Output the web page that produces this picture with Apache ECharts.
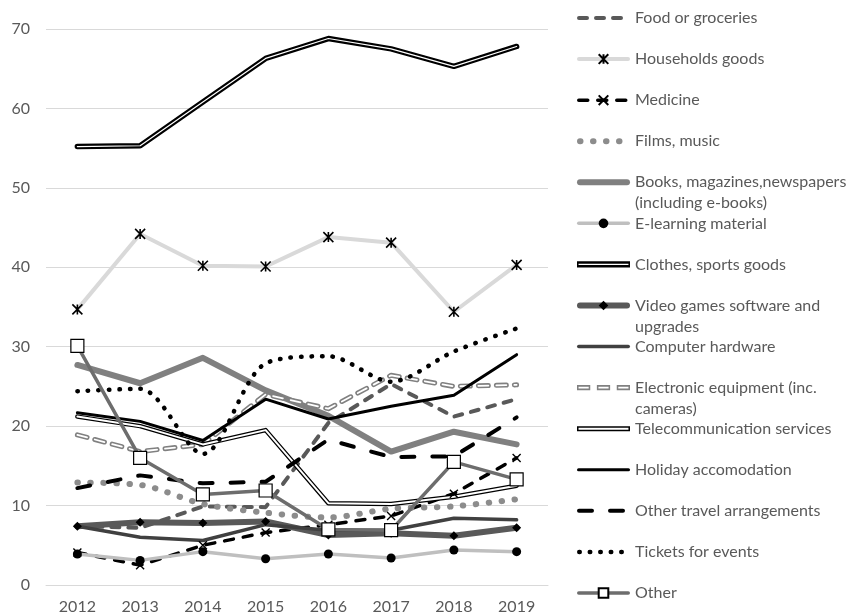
<!DOCTYPE html>
<html>
<head>
<meta charset="utf-8">
<script src="https://cdn.jsdelivr.net/npm/echarts@6/dist/echarts.min.js"></script>
<style>
html,body{margin:0;padding:0;background:#fff;}
#main{width:850px;height:615px;}
</style>
</head>
<body>
<div id="main"></div>
<script>
var categories = ['2012','2013','2014','2015','2016','2017','2018','2019'];
var yTicks = [0,10,20,30,40,50,60,70];

var food        = [7.4, 7.2, 9.9, 9.8, 20.4, 25.3, 21.2, 23.4];
var households  = [34.7, 44.2, 40.2, 40.1, 43.8, 43.1, 34.4, 40.3];
var medicine    = [4.1, 2.5, 5.0, 6.6, 7.6, 8.7, 11.5, 16.0];
var films       = [12.9, 12.6, 10.2, 9.1, 8.5, 9.6, 9.9, 10.8];
var books       = [27.7, 25.4, 28.6, 24.5, 21.3, 16.8, 19.3, 17.7];
var elearning   = [3.9, 3.1, 4.2, 3.3, 3.9, 3.4, 4.4, 4.2];
var clothes     = [55.2, 55.3, 60.8, 66.3, 68.8, 67.5, 65.3, 67.8];
var videogames  = [7.4, 7.9, 7.8, 8.0, 6.3, 6.5, 6.2, 7.2];
var hardware    = [7.4, 6.0, 5.6, 7.6, 6.9, 6.9, 8.4, 8.2];
var electronic  = [18.9, 16.8, 17.7, 24.0, 22.2, 26.4, 25.0, 25.2];
var telecom     = [21.2, 20.0, 17.7, 19.5, 10.3, 10.2, 11.1, 12.5];
var holiday     = [21.7, 20.6, 18.2, 23.4, 20.9, 22.5, 23.9, 29.0];
var otherTravel = [12.2, 13.8, 12.8, 13.0, 18.3, 16.1, 16.2, 21.1];
var tickets     = [24.4, 24.7, 16.5, 27.9, 28.8, 25.6, 29.4, 32.3];
var other       = [30.1, 16.0, 11.4, 11.9, 7.0, 6.9, 15.5, 13.3];

var names = [
  'Food or groceries',
  'Households goods',
  'Medicine',
  'Films, music',
  'Books, magazines,newspapers\n(including e-books)',
  'E-learning material',
  'Clothes, sports goods',
  'Video games software and\nupgrades',
  'Computer hardware',
  'Electronic equipment (inc.\ncameras)',
  'Telecommunication services',
  'Holiday accomodation',
  'Other travel arrangements',
  'Tickets for events',
  'Other'
];

var asterisk = 'path://M0,0L10,10M10,0L0,10M5,0L5,10';
var cross = 'path://M0,0L10,10M10,0L0,10';
var FONT = 'Lato';
var TEXT = '#595959';

function line(name, data, ls, extra) {
  ls.cap = 'round';
  ls.join = 'round';
  var s = {
    type: 'line', name: name, data: data,
    symbol: 'circle', showSymbol: false, symbolSize: 0,
    lineStyle: ls,
    itemStyle: { color: ls.color },
    emphasis: { disabled: true },
    silent: true
  };
  if (extra) for (var k in extra) s[k] = extra[k];
  return s;
}

var series = [
  line(names[0], food, { color: '#595959', width: 4, type: [8, 9] }),
  line(names[1], households, { color: '#d9d9d9', width: 4 }, {
    symbol: asterisk, showSymbol: true, symbolSize: 10,
    itemStyle: { color: '#000', borderColor: '#000', borderWidth: 1.6 }
  }),
  line(names[2], medicine, { color: '#000', width: 3.5, type: [9, 10] }, {
    symbol: cross, showSymbol: true, symbolSize: 8,
    itemStyle: { color: '#000', borderColor: '#000', borderWidth: 1.4 }
  }),
  line(names[3], films, { color: '#8c8c8c', width: 6, type: [0.5, 12.5] }, { smooth: 0.3 }),
  line(names[4], books, { color: '#808080', width: 6 }),
  line(names[5], elearning, { color: '#bfbfbf', width: 3.5 }, {
    symbol: 'circle', showSymbol: true, symbolSize: 9,
    itemStyle: { color: '#000' }
  }),
  line(names[6], clothes, { color: '#000', width: 5.5 }),
  line(names[6], clothes, { color: '#fff', width: 1.2 }),
  line(names[7], videogames, { color: '#595959', width: 6 }, {
    symbol: 'diamond', showSymbol: true, symbolSize: 9,
    itemStyle: { color: '#000' }
  }),
  line(names[8], hardware, { color: '#404040', width: 3.5 }),
  line(names[9], electronic, { color: '#808080', width: 5, type: [10, 8] }),
  line(names[9], electronic, { color: '#fff', width: 1.8, type: [10, 8] }),
  line(names[10], telecom, { color: '#000', width: 4.5 }),
  line(names[10], telecom, { color: '#fff', width: 2 }),
  line(names[11], holiday, { color: '#000', width: 3 }),
  line(names[12], otherTravel, { color: '#000', width: 4, type: [13, 18] }),
  line(names[13], tickets, { color: '#000', width: 4.5, type: [0.5, 10] }, { smooth: 0.3 }),
  line(names[14], other, { color: '#6d6d6d', width: 3.5 }, {
    symbol: 'rect', showSymbol: true, symbolSize: 13,
    itemStyle: { color: '#fff', borderColor: '#000', borderWidth: 1.2 }
  })
];

var hidden = { opacity: 0 };
var legendData = [
  { name: names[0], itemStyle: hidden },
  { name: names[1] },
  { name: names[2] },
  { name: names[3], itemStyle: hidden },
  { name: names[4], itemStyle: hidden },
  { name: names[5] },
  { name: names[6], icon: 'path://M0,0H52V6H0Z M1.5,2.4V3.6H50.5V2.4Z' },
  { name: names[7] },
  { name: names[8], itemStyle: hidden },
  { name: names[9], icon: 'path://M0,0H13V5H0Z M1.5,1.6V3.4H11.5V1.6Z M19.5,0H32.5V5H19.5Z M21,1.6V3.4H31V1.6Z M39,0H52V5H39Z M40.5,1.6V3.4H50.5V1.6Z' },
  { name: names[10], icon: 'path://M0,0H52V5H0Z M1.5,1.5V3.5H50.5V1.5Z' },
  { name: names[11], itemStyle: hidden },
  { name: names[12], itemStyle: hidden },
  { name: names[13], itemStyle: hidden },
  { name: names[14] }
];

function widthOf(name) {
  for (var i = 0; i < series.length; i++) if (series[i].name === name) return series[i].lineStyle.width;
  return 0;
}

var legends = legendData.map(function (item, i) {
  var w = item.icon ? 0 : widthOf(item.name);
  return {
    orient: 'vertical', left: 577, top: 7.5 + i * 41.07, padding: 0,
    itemWidth: 53 - w, itemHeight: 12, itemGap: 0,
    selectedMode: false,
    data: [item],
    lineStyle: { width: 'inherit' },
    formatter: function (name) {
      return name.split('\n').map(function (l) { return '{a|' + l + '}'; }).join('\n');
    },
    textStyle: {
      color: TEXT, fontSize: 16, fontFamily: FONT, lineHeight: 21, height: 21,
      padding: [0, 0, 0, w / 2],
      rich: { a: { color: TEXT, fontSize: 16, fontFamily: FONT, lineHeight: 21 } }
    }
  };
});

var chart = echarts.init(document.getElementById('main'), null, { renderer: 'canvas' });
chart.setOption({
  animation: false,
  backgroundColor: '#fff',
  textStyle: { fontFamily: FONT },
  grid: { left: 46, right: 302, top: 29, bottom: 30, containLabel: false },
  xAxis: {
    type: 'category', data: categories, boundaryGap: true,
    axisLine: { show: true, lineStyle: { color: '#d9d9d9', width: 1 } },
    axisTick: { show: false },
    axisLabel: { color: TEXT, fontSize: 16, fontFamily: FONT, margin: 14 }
  },
  yAxis: {
    type: 'value', min: yTicks[0], max: yTicks[yTicks.length - 1], interval: 10,
    axisLine: { show: false }, axisTick: { show: false },
    splitLine: { lineStyle: { color: '#d9d9d9', width: 1 } },
    axisLabel: { color: TEXT, fontSize: 16, fontFamily: FONT, margin: 16 }
  },
  legend: legends,
  series: series
});
</script>
</body>
</html>
